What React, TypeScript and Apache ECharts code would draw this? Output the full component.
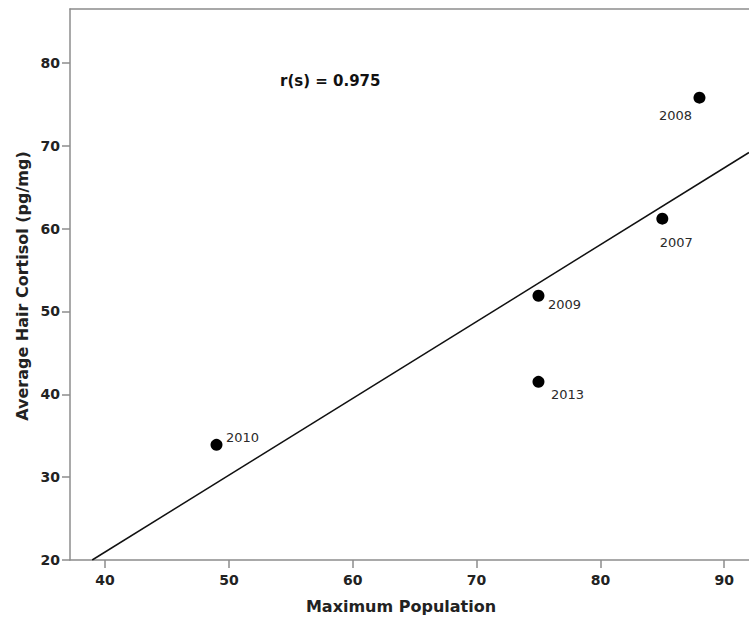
import React, { useEffect, useRef } from "react";
import * as echarts from "echarts";

const years = ["2007", "2008", "2009", "2010", "2013"];
const maxPopulation = [85, 88, 75, 49, 75];
const hairCortisol = [61.2, 75.8, 51.9, 33.9, 41.5];
const labelOffsets: [number, number][] = [
  [14, 24],
  [-24, 18],
  [26, 9],
  [26, -7],
  [29, 13],
];
const xTicks = [40, 50, 60, 70, 80, 90];
const yTicks = [20, 30, 40, 50, 60, 70, 80];
const xMin = 37.17;
const xMax = 92.0;
const yMin = 20;
const yMax = 86.5;
const annotation = "r(s) = 0.975";

function fitLine(xs: number[], ys: number[]) {
  const n = xs.length;
  const mx = xs.reduce((a, b) => a + b, 0) / n;
  const my = ys.reduce((a, b) => a + b, 0) / n;
  let sxy = 0;
  let sxx = 0;
  for (let i = 0; i < n; i++) {
    sxy += (xs[i] - mx) * (ys[i] - my);
    sxx += (xs[i] - mx) * (xs[i] - mx);
  }
  const slope = sxy / sxx;
  return { slope, intercept: my - slope * mx };
}

export default function App() {
  const ref = useRef<HTMLDivElement>(null);
  useEffect(() => {
    if (!ref.current) return;
    const chart = echarts.init(ref.current, null, { renderer: "svg" });
    const { slope, intercept } = fitLine(maxPopulation, hairCortisol);
    const x0 = (yMin - intercept) / slope;
    const fit = [
      [x0, yMin],
      [xMax, intercept + slope * xMax],
    ];
    const font = "DejaVu Sans";
    const axisColor = "#8c8c8c";
    chart.setOption({
      animation: false,
      backgroundColor: "#ffffff",
      grid: {
        left: 70,
        top: 9,
        right: 0,
        bottom: 63,
        show: false,
      },
      xAxis: [
        {
          type: "value",
          min: xMin,
          max: xMax,
          splitLine: { show: false },
          axisLine: { show: true, lineStyle: { color: axisColor, width: 1.5 } },
          axisTick: {
            show: true,
            length: 8,
            customValues: xTicks,
            lineStyle: { color: axisColor, width: 1.5 },
          },
          axisLabel: {
            customValues: xTicks,
            margin: 13,
            color: "#222",
            fontFamily: font,
            fontWeight: "bold",
            fontSize: 14,
          },
        },
        {
          type: "value",
          position: "top",
          min: xMin,
          max: xMax,
          splitLine: { show: false },
          axisLine: { show: true, lineStyle: { color: axisColor, width: 1.5 } },
          axisTick: { show: false },
          axisLabel: { show: false },
        },
      ],
      yAxis: {
        type: "value",
        min: yMin,
        max: yMax,
        splitLine: { show: false },
        axisLine: { show: true, lineStyle: { color: axisColor, width: 1.5 } },
        axisTick: {
          show: true,
          length: 8,
          customValues: yTicks,
          lineStyle: { color: axisColor, width: 1.5 },
        },
        axisLabel: {
          customValues: yTicks,
          margin: 10,
          color: "#222",
          fontFamily: font,
          fontWeight: "bold",
          fontSize: 14,
        },
      },
      graphic: [
        {
          type: "text",
          left: 280,
          top: 73,
          style: {
            text: annotation,
            fill: "#111",
            font: `bold 15px "${font}"`,
          },
        },
        {
          type: "text",
          x: 401,
          y: 606,
          style: {
            text: "Maximum Population",
            fill: "#222",
            font: `bold 16px "${font}"`,
            align: "center",
            verticalAlign: "middle",
          },
        },
        {
          type: "text",
          x: 22,
          y: 286,
          rotation: Math.PI / 2,
          style: {
            text: "Average Hair Cortisol (pg/mg)",
            fill: "#222",
            font: `bold 16px "${font}"`,
            align: "center",
            verticalAlign: "middle",
          },
        },
      ],
      series: [
        {
          type: "line",
          data: fit,
          symbol: "none",
          clip: true,
          lineStyle: { color: "#111", width: 1.5 },
          silent: true,
          z: 2,
        },
        {
          type: "scatter",
          symbolSize: 12,
          itemStyle: { color: "#000", opacity: 1 },
          z: 3,
          data: years.map((yr, i) => ({
            value: [maxPopulation[i], hairCortisol[i]],
            name: yr,
            label: {
              show: true,
              position: "inside",
              offset: labelOffsets[i],
              formatter: yr,
              color: "#2a2a2a",
              fontFamily: font,
              fontSize: 13,
              align: "center",
              verticalAlign: "middle",
            },
          })),
        },
      ],
    });
    return () => chart.dispose();
  }, []);
  return (
    <div
      ref={ref}
      style={{ position: "fixed", left: 0, top: 0, width: 749, height: 623 }}
    />
  );
}
